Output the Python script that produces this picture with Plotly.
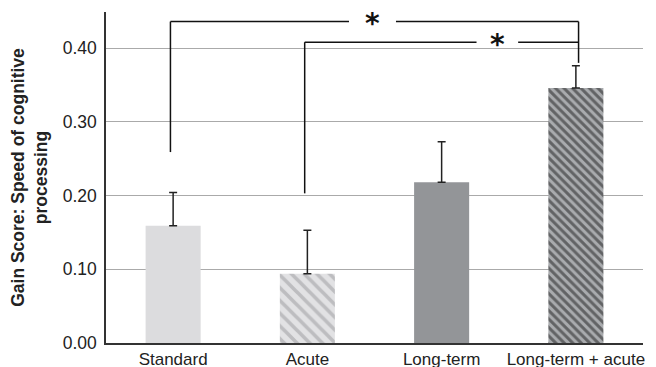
import plotly.graph_objects as go

categories = ["Standard", "Acute", "Long-term", "Long-term + acute"]
means = [0.159, 0.094, 0.218, 0.346]
err_up = [0.045, 0.059, 0.055, 0.030]
y_ticks = [0.0, 0.1, 0.2, 0.3, 0.4]

# significance brackets: (left idx, right idx, bar y, left leg bottom, gap start, gap end)
brackets = [
    (0, 3, 0.436, 0.259, 1.31, 1.66),
    (1, 3, 0.408, 0.203, 2.26, 2.57),
]
right_leg_bottom = 0.380

bar_colors = ["#dcdcde", "#e2e2e4", "#939598", "#a9abae"]
stripe_shape = ["", "\\", "", "\\"]
stripe_colors = ["#dcdcde", "#98989b", "#939598", "#1c1c1c"]
stripe_size = [8, 9, 8, 6]
stripe_solid = [0.3, 0.4, 0.3, 0.5]

xs = list(range(len(categories)))

fig = go.Figure()
for i in xs:
    marker = dict(color=bar_colors[i], line=dict(width=0))
    if stripe_shape[i]:
        marker["pattern"] = dict(shape=stripe_shape[i], fgcolor=stripe_colors[i],
                                 size=stripe_size[i], solidity=stripe_solid[i],
                                 fillmode="overlay")
    fig.add_trace(go.Bar(
        x=[xs[i]], y=[means[i]], width=0.41, marker=marker,
        error_y=dict(type="data", symmetric=False, array=[err_up[i]],
                     arrayminus=[0], color="#222222", thickness=1.5, width=4),
        showlegend=False,
    ))

shapes = []
line = dict(color="#111111", width=1.5)
for (a, b, yb, leg, g0, g1) in brackets:
    shapes.append(dict(type="line", xref="x", yref="y", x0=a-0.02, x1=a-0.02, y0=leg, y1=yb, line=line))
    shapes.append(dict(type="line", xref="x", yref="y", x0=a-0.02, x1=g0, y0=yb, y1=yb, line=line))
    shapes.append(dict(type="line", xref="x", yref="y", x0=g1, x1=b+0.02, y0=yb, y1=yb, line=line))
    fig.add_annotation(x=(g0+g1)/2, y=yb, xref="x", yref="y", text="<b>*</b>",
                       showarrow=False, font=dict(size=28, color="#111111",
                       family="DejaVu Sans"), yshift=-2)
shapes.append(dict(type="line", xref="x", yref="y", x0=3.02, x1=3.02,
                   y0=right_leg_bottom, y1=brackets[0][2], line=line))
fig.update_layout(shapes=shapes)

# page body has an 8px default margin, so the figure is sized to fit the window
fig.update_layout(
    width=648, height=359,
    margin=dict(l=98, r=13, t=4, b=24, autoexpand=False),
    plot_bgcolor="white", paper_bgcolor="white",
    barmode="overlay",
    font=dict(family="Liberation Sans, Arial, sans-serif", size=17, color="#222222"),
    xaxis=dict(range=[-0.5, 3.5], tickvals=xs, ticktext=categories,
               showgrid=False, showline=True, linecolor="#333333", linewidth=1.5,
               ticks="", tickfont=dict(size=17), zeroline=False, automargin=False),
    yaxis=dict(range=[0, 0.449], tickvals=y_ticks, tickformat=".2f",
               showgrid=True, gridcolor="#aaaaaa", gridwidth=1,
               showline=True, linecolor="#333333", linewidth=1.5,
               ticks="", tickfont=dict(size=17.5), zeroline=False, automargin=False,
               ticklabelstandoff=4,
               title=dict(text="<b>Gain Score: Speed of cognitive<br>processing</b>",
                          font=dict(size=17.5), standoff=12)),
)

fig.write_html("out.html")
